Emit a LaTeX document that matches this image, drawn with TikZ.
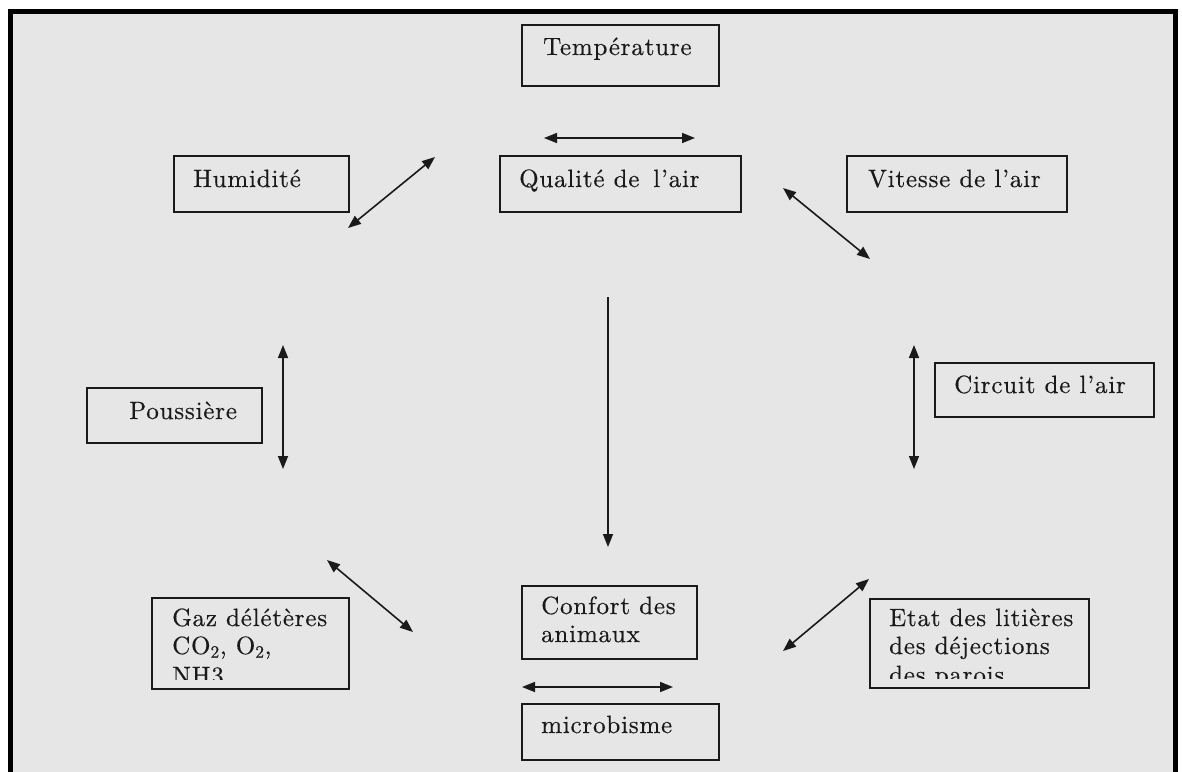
\documentclass[tikz,border=0pt]{standalone}
\usepackage{fontspec}
\newfontfamily\lblfont{lmroman10-regular}[Extension=.otf, LetterSpace=3.2, FakeBold=0.4]
\usetikzlibrary{arrows.meta}
\definecolor{bggray}{HTML}{E6E6E6}
\definecolor{ink}{HTML}{1A1A1A}
\begin{document}
\begin{tikzpicture}[x=1pt,y=-1pt,
  box/.style={draw=ink, line width=1.6pt, anchor=north west, inner sep=0pt},
  lbl/.style={anchor=base west, inner sep=0pt, text=ink, font=\lblfont\fontsize{25}{28}\selectfont},
  tipd/.style={line width=1.6pt, draw=ink, {Triangle[length=13pt,width=10pt]}-{Triangle[length=13pt,width=10pt]}},
  tips/.style={line width=1.6pt, draw=ink, -{Triangle[length=13pt,width=10pt]}},
]
\useasboundingbox (0,0) rectangle (1182,771);
\clip (0,0) rectangle (1182,771);
\fill[white] (0,0) rectangle (1182,771);
\fill[bggray] (10,11) rectangle (1175,790);
\draw[line width=5pt, black] (10,790) -- (10,11) -- (1175,11) -- (1175,790);

% boxes
\node[box, minimum width=197pt, minimum height=61pt] (temp) at (521,24) {};
\node[box, minimum width=241pt, minimum height=56pt] (qual) at (499,155) {};
\node[box, minimum width=175pt, minimum height=56pt] (hum) at (173,155) {};
\node[box, minimum width=220pt, minimum height=56pt] (vit) at (846,155) {};
\node[box, minimum width=175pt, minimum height=55pt] (pous) at (86,387) {};
\node[box, minimum width=219pt, minimum height=54pt] (circ) at (934,362) {};
\node[box, minimum width=197pt, minimum height=91pt] (gaz) at (151,597) {};
\node[box, minimum width=175pt, minimum height=73pt] (conf) at (521,585) {};
\node[box, minimum width=197pt, minimum height=56pt] (micro) at (521,703) {};
\node[box, minimum width=219pt, minimum height=89pt] (etat) at (869,598) {};

% labels
\node[lbl] (tempT) at (543,55) {Température};
\node[lbl] (qualT) at (519,187) {Qualité de\hspace{0.55em}l’air};
\node[lbl] (humT) at (193,187) {Humidité};
\node[lbl] (vitT) at (868,187) {Vitesse de l’air};
\node[lbl] (pousT) at (129,419) {Poussière};
\node[lbl] (circT) at (954,393) {Circuit de l’air};
\node[lbl] (gazT1) at (172,626) {Gaz délétères};
\node[lbl] (gazT2) at (172,654) {CO\textsubscript{2}, O\textsubscript{2},};
\begin{scope}
\clip (151,597) rectangle (348,679);
\node[lbl] (gazT3) at (172,684) {NH3};
\end{scope}
\node[lbl] (confT1) at (541,614) {Confort des};
\node[lbl] (confT2) at (541,642) {animaux};
\node[lbl] (microT) at (541,733) {microbisme};
\node[lbl] (etatT1) at (889,626) {Etat des litières};
\node[lbl] (etatT2) at (889,654) {des déjections};
\begin{scope}
\clip (869,598) rectangle (1088,678);
\node[lbl] (etatT3) at (889,683) {des parois};
\end{scope}

% connector end points
\coordinate (a1s) at (544,138);  \coordinate (a1e) at (695,138);
\coordinate (a2s) at (348,228);  \coordinate (a2e) at (435,157);
\coordinate (a3s) at (783,188);  \coordinate (a3e) at (870,259);
\coordinate (a4s) at (608,297);  \coordinate (a4e) at (608,547);
\coordinate (a5s) at (283,345);  \coordinate (a5e) at (283,469);
\coordinate (a6s) at (914,345);  \coordinate (a6e) at (914,469);
\coordinate (a7s) at (327,560);  \coordinate (a7e) at (413,632);
\coordinate (a8s) at (783,651);  \coordinate (a8e) at (869,579);
\coordinate (a9s) at (522,687);  \coordinate (a9e) at (673,687);

\draw[tipd] (a1s) -- (a1e);
\draw[tipd] (a2s) -- (a2e);
\draw[tipd] (a3s) -- (a3e);
\draw[tips] (a4s) -- (a4e);
\draw[tipd] (a5s) -- (a5e);
\draw[tipd] (a6s) -- (a6e);
\draw[tipd] (a7s) -- (a7e);
\draw[tipd] (a8s) -- (a8e);
\draw[tipd] (a9s) -- (a9e);
\end{tikzpicture}
\end{document}
